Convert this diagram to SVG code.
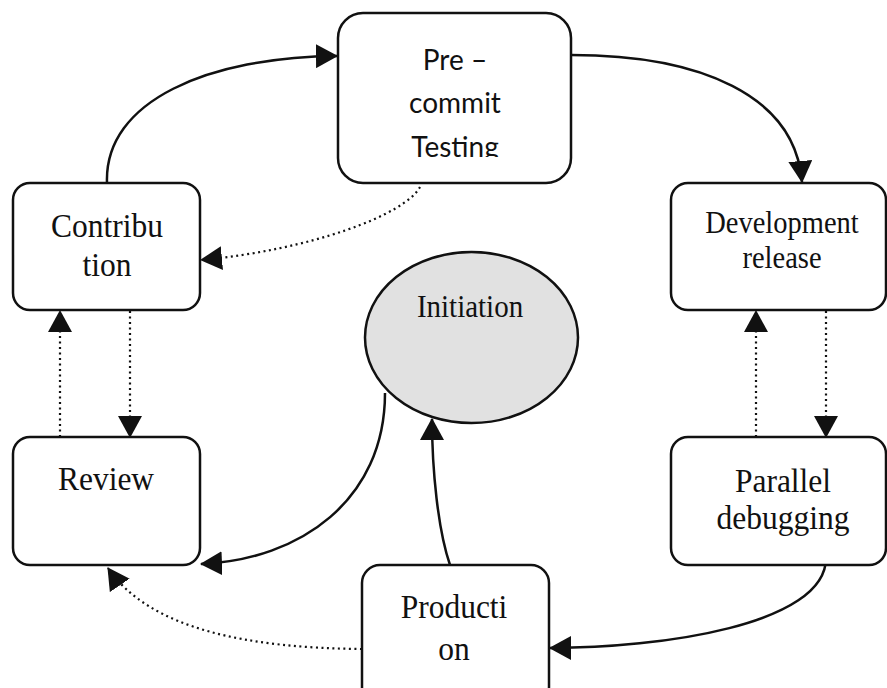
<svg xmlns="http://www.w3.org/2000/svg" width="887" height="688" viewBox="0 0 887 688">
  <style>
    .box { fill: #ffffff; stroke: #111111; stroke-width: 2.5; }
    .oval { fill: #e1e1e1; stroke: #111111; stroke-width: 2.5; }
    .lbl { font-family: "Liberation Serif", "Times New Roman", serif; font-size: 31.5px; fill: #111111; text-anchor: middle; }
    .lbl-sm { font-size: 28.5px; }
    .lbl-md { font-size: 29px; }
    .lbl-sans { font-family: Lato, "Open Sans", "Liberation Sans", sans-serif; font-size: 28px; fill: #111111; text-anchor: middle; }
    .solid { fill: none; stroke: #111111; stroke-width: 2.5; marker-end: url(#head); }
    .dotted { fill: none; stroke: #111111; stroke-width: 2.2; stroke-dasharray: 2 3.5; marker-end: url(#head); }
  </style>
  <defs>
    <marker id="head" markerUnits="userSpaceOnUse" markerWidth="22" markerHeight="24" refX="21" refY="12" orient="auto">
      <path d="M0,0 L22,12 L0,24 Z" fill="#111111"/>
    </marker>
    <clipPath id="pcClip">
      <rect x="337" y="12" width="234" height="145"/>
    </clipPath>
  </defs>

  <g id="connectors">
    <!-- Contribution to Pre-commit Testing -->
    <path class="solid" d="M107,183 C104,100 210,57 337,56"/>
    <!-- Pre-commit Testing to Development release -->
    <path class="solid" d="M571,55 C700,55 795,95 802,182"/>
    <!-- Pre-commit Testing back to Contribution -->
    <path class="dotted" d="M420,187 C405,215 310,250 201,260"/>
    <!-- Contribution / Review -->
    <path class="dotted" d="M130,311 L130,437"/>
    <path class="dotted" d="M60,437 L60,311"/>
    <!-- Development release / Parallel debugging -->
    <path class="dotted" d="M756,437 L756,311"/>
    <path class="dotted" d="M826,311 L826,437"/>
    <!-- Initiation to Review -->
    <path class="solid" d="M385,393 C385,500 300,560 201,564"/>
    <!-- Production to Initiation -->
    <path class="solid" d="M450,565 C438,530 432,470 432,419"/>
    <!-- Parallel debugging to Production -->
    <path class="solid" d="M826,558 C826,625 660,648 550,648"/>
    <!-- Production back to Review -->
    <path class="dotted" d="M362,649 C250,648 150,630 108,568"/>
  </g>

  <g id="pre-commit-testing">
    <rect class="box" x="338" y="13" width="233" height="170" rx="25" ry="25"/>
    <g clip-path="url(#pcClip)">
      <text class="lbl-sans" x="455" y="70">Pre –</text>
      <text class="lbl-sans" x="455" y="113">commit</text>
      <text class="lbl-sans" x="455" y="157">Testing</text>
    </g>
  </g>

  <!-- serif labels are drawn slightly taller than wide -->
  <g id="contribution">
    <rect class="box" x="13" y="183" width="187" height="127" rx="17" ry="17"/>
    <text class="lbl" transform="translate(107,237) scale(1,1.1)">Contribu</text>
    <text class="lbl" transform="translate(107,276) scale(1,1.1)">tion</text>
  </g>

  <g id="development-release">
    <rect class="box" x="671" y="183" width="215" height="127" rx="17" ry="17"/>
    <text class="lbl lbl-sm" transform="translate(782,233) scale(1,1.1)">Development</text>
    <text class="lbl lbl-sm" transform="translate(782,268) scale(1,1.1)">release</text>
  </g>

  <g id="initiation">
    <ellipse class="oval" cx="471.5" cy="337.5" rx="106.5" ry="85.5"/>
    <text class="lbl lbl-md" transform="translate(470,317) scale(1,1.1)">Initiation</text>
  </g>

  <g id="review">
    <rect class="box" x="13" y="437" width="187" height="128" rx="17" ry="17"/>
    <text class="lbl" transform="translate(106,490) scale(1,1.1)">Review</text>
  </g>

  <g id="parallel-debugging">
    <rect class="box" x="671" y="437" width="215" height="128" rx="17" ry="17"/>
    <text class="lbl" transform="translate(783,492) scale(1,1.1)">Parallel</text>
    <text class="lbl" transform="translate(783,529) scale(1,1.1)">debugging</text>
  </g>

  <g id="production">
    <rect class="box" x="362" y="565" width="187" height="140" rx="18" ry="18"/>
    <text class="lbl" transform="translate(454,618) scale(1,1.1)">Producti</text>
    <text class="lbl" transform="translate(454,660) scale(1,1.1)">on</text>
  </g>
</svg>
